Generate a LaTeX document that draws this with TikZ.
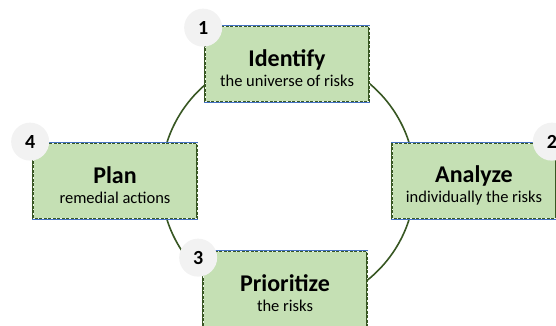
\documentclass[tikz,border=0pt]{standalone}
\usepackage{fontspec}
\setmainfont{Carlito}
\usetikzlibrary{positioning}
\definecolor{boxgreen}{HTML}{C5E0B4}
\definecolor{darkgreen}{HTML}{385723}
\definecolor{edgeblue}{HTML}{4472C4}
\definecolor{badgegray}{HTML}{F2F2F2}
\newcommand{\stagetitle}[1]{{\fontsize{24}{24}\selectfont\bfseries\rule{0pt}{26pt}#1}}

\begin{document}
\begin{tikzpicture}[
    x=1pt, y=-1pt,
    ring/.style={draw=darkgreen, line width=1.6pt},
    stage/.style={fill=boxgreen, draw=darkgreen, line width=1.7pt,
        minimum width=164pt, minimum height=75pt, inner sep=0pt, align=center,
        font=\fontsize{16.5}{20}\selectfont,
        preaction={draw=edgeblue, line width=2.2pt},
        postaction={draw=white!70!boxgreen, line width=0.4pt, dash pattern=on 1.5pt off 3pt}},
    badge/.style={fill=badgegray, circle, minimum size=38pt, inner sep=0pt,
        font=\fontsize{20}{20}\selectfont\bfseries}
]

% Fix the page to the reference frame
\useasboundingbox (0,0) rectangle (556,325);

% Draw the ring behind the boxes
\coordinate (hub) at (288,181);
\draw[ring] (hub) circle[radius=127];

% Define the four stages
\node[stage] (identify) at (287,64) {\stagetitle{Identify}\\the universe of risks};
\node[stage] (analyze) at (474,181) {\stagetitle{Analyze}\\individually the risks};
\node[stage] (prioritize) at (285,289) {\stagetitle{Prioritize}\\the risks};
\node[stage] (plan) at (115,181) {\stagetitle{Plan}\\remedial actions};

% Add numbered badges at the corners
\node[badge] (one) at ([shift={(-1,2)}]identify.north west) {1};
\node[badge] (two) at ([shift={(-5,-1)}]analyze.north east) {2};
\node[badge] (three) at ([shift={(-4,7)}]prioritize.north west) {3};
\node[badge] (four) at ([shift={(-2,-1)}]plan.north west) {4};

\end{tikzpicture}
\end{document}
